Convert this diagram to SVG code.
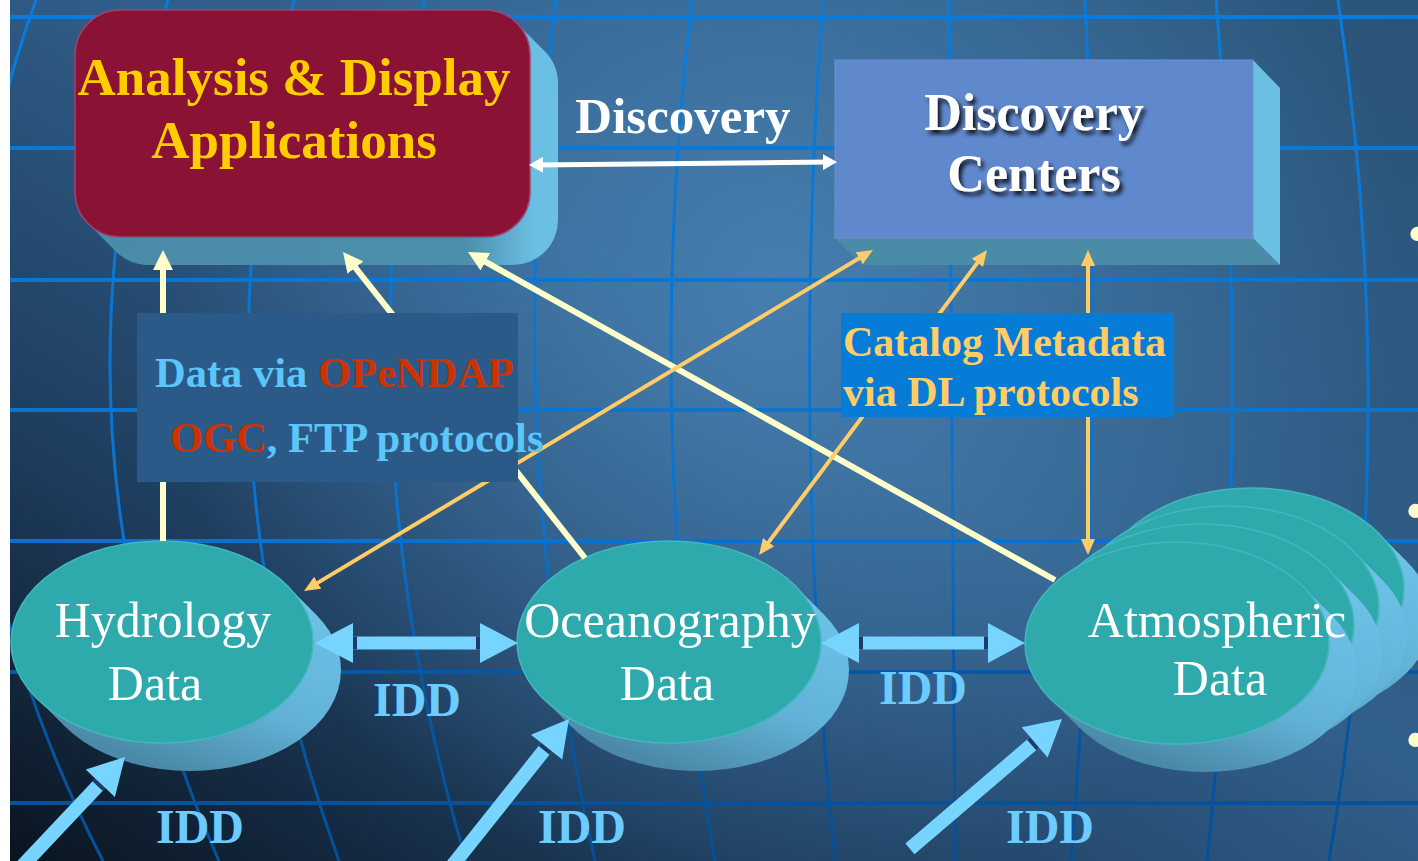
<svg xmlns="http://www.w3.org/2000/svg" width="1418" height="861" viewBox="0 0 1418 861">
  <defs>
    <linearGradient id="bgLin" x1="1" y1="0" x2="0" y2="1">
      <stop offset="0" stop-color="#2a5478"/>
      <stop offset="0.45" stop-color="#315f8b"/>
      <stop offset="0.75" stop-color="#1e3d5e"/>
      <stop offset="1" stop-color="#0a1420"/>
    </linearGradient>
    <radialGradient id="bgGlow" gradientUnits="userSpaceOnUse" cx="780" cy="280" r="620">
      <stop offset="0" stop-color="#4a84b6" stop-opacity="0.85"/>
      <stop offset="0.6" stop-color="#4a84b6" stop-opacity="0.35"/>
      <stop offset="1" stop-color="#4a84b6" stop-opacity="0"/>
    </radialGradient>
    <linearGradient id="gridStroke" gradientUnits="userSpaceOnUse" x1="0" y1="0" x2="0" y2="861">
      <stop offset="0" stop-color="#0b7bd9"/>
      <stop offset="0.62" stop-color="#0a72cf"/>
      <stop offset="0.78" stop-color="#0558a6"/>
      <stop offset="1" stop-color="#04509a"/>
    </linearGradient>
    <linearGradient id="boxSide" gradientUnits="userSpaceOnUse" x1="103" y1="0" x2="558" y2="0">
      <stop offset="0" stop-color="#4a8ba8"/>
      <stop offset="0.8" stop-color="#4c8fad"/>
      <stop offset="0.95" stop-color="#6bbfe3"/>
    </linearGradient>
    <linearGradient id="ellSide" x1="0.85" y1="0.2" x2="0.45" y2="1">
      <stop offset="0" stop-color="#6cc1e6"/>
      <stop offset="0.55" stop-color="#62b2d7"/>
      <stop offset="1" stop-color="#4a8aa7"/>
    </linearGradient>
    <filter id="txtShadow" x="-10%" y="-20%" width="130%" height="150%">
      <feDropShadow dx="3" dy="4" stdDeviation="2" flood-color="#000" flood-opacity="0.85"/>
    </filter>
    <marker id="mCream" viewBox="0 0 20 20" markerUnits="userSpaceOnUse" markerWidth="20" markerHeight="20" refX="10" refY="10" orient="auto-start-reverse">
      <path d="M0,0 L20,10 L0,20 Z" fill="#ffffcc"/>
    </marker>
    <marker id="mOrange" viewBox="0 0 16 14" markerUnits="userSpaceOnUse" markerWidth="16" markerHeight="14" refX="8" refY="7" orient="auto-start-reverse">
      <path d="M0,0 L16,7 L0,14 Z" fill="#ffcc66"/>
    </marker>
    <marker id="mWhite" viewBox="0 0 14 16" markerUnits="userSpaceOnUse" markerWidth="14" markerHeight="16" refX="7" refY="8" orient="auto-start-reverse">
      <path d="M0,0 L14,8 L0,16 Z" fill="#ffffff"/>
    </marker>
    <g id="blockArrow">
      <polygon points="0,0 -36,-20 -36,-7 -200,-7 -200,7 -36,7 -36,20" fill="#77d4ff"/>
      <rect x="-40" y="-7" width="4" height="14" fill="#1f3a66"/>
    </g>
  </defs>
  <style>
    .grid { fill: none; stroke: url(#gridStroke); }
    .serif { font-family: "Liberation Serif", "Times New Roman", serif; }
    .bold { font-weight: bold; }
    .ellFront { fill: #2eaaad; stroke: #45b6bd; stroke-width: 1.5; }
    .ellSide { fill: url(#ellSide); }
    .ellText { font-family: "Liberation Serif", "Times New Roman", serif; font-size: 50px; fill: #ffffff; text-anchor: middle; }
    .idd { font-family: "Liberation Serif", "Times New Roman", serif; font-size: 48px; font-weight: bold; fill: #6ccbff; text-anchor: middle; }
    .cream { stroke: #ffffcc; stroke-width: 6; fill: none; marker-end: url(#mCream); }
    .orange { stroke: #ffcc66; stroke-width: 4; fill: none; marker-start: url(#mOrange); marker-end: url(#mOrange); }
    .blue { fill: #5bc6f8; }
    .red { fill: #cc3300; }
  </style>

  <g id="background">
    <rect x="0" y="0" width="1418" height="861" fill="#ffffff"/>
    <rect x="10" y="0" width="1408" height="861" fill="url(#bgLin)"/>
    <rect x="10" y="0" width="1408" height="861" fill="url(#bgGlow)"/>
    <g class="grid" stroke-width="4">
      <line x1="10" y1="17" x2="1418" y2="17"/>
      <line x1="10" y1="148" x2="1418" y2="148"/>
      <line x1="10" y1="280" x2="1418" y2="280"/>
      <line x1="10" y1="410" x2="1418" y2="410"/>
      <line x1="10" y1="541" x2="1418" y2="541"/>
      <line x1="10" y1="672" x2="1418" y2="672"/>
      <line x1="10" y1="803" x2="1418" y2="803"/>
    </g>
    <g class="grid" stroke-width="3">
      <path d="M36,0 Q-119.5,429.5 103,861"/>
      <path d="M168,0 Q30.5,429.5 219,861"/>
      <path d="M294,0 Q183.5,429.5 339,861"/>
      <path d="M425,0 Q338.5,429.5 466,861"/>
      <path d="M556,0 Q498.5,429.5 595,861"/>
      <path d="M692,0 Q640.5,429.5 715,861"/>
      <path d="M823,0 Q791,429.5 835,861"/>
      <path d="M949,0 Q952,429.5 955,861"/>
      <path d="M1085,0 Q1106,429.5 1071,861"/>
      <path d="M1216,0 Q1252.5,429.5 1207,861"/>
      <path d="M1338,0 Q1402.5,429.5 1329,861"/>
    </g>
    <rect x="0" y="0" width="10" height="861" fill="#ffffff"/>
  </g>

  <g id="node-analysis">
    <rect x="82" y="17" width="455" height="227" rx="45" fill="url(#boxSide)"/>
    <rect x="89" y="24" width="455" height="227" rx="45" fill="url(#boxSide)"/>
    <rect x="96" y="31" width="455" height="227" rx="45" fill="url(#boxSide)"/>
    <rect x="103" y="38" width="455" height="227" rx="45" fill="url(#boxSide)"/>
    <rect x="75" y="10" width="455" height="227" rx="45" fill="#8a1234" stroke="#9c4470" stroke-width="1.5"/>
    <text class="serif bold" x="294" y="95" font-size="53" fill="#ffcc00" text-anchor="middle">Analysis &amp; Display</text>
    <text class="serif bold" x="294" y="158" font-size="53" fill="#ffcc00" text-anchor="middle">Applications</text>
  </g>

  <g id="node-discovery-centers">
    <polygon points="835,238 1253,238 1280,265 862,265" fill="#4a8ca8"/>
    <polygon points="1253,60 1280,88 1280,265 1253,238" fill="#6bbfe3"/>
    <rect x="835" y="60" width="418" height="178" fill="#6088cc" stroke="#6a92d2" stroke-width="1"/>
    <g filter="url(#txtShadow)">
      <text class="serif bold" x="1034" y="130" font-size="52" fill="#ffffff" text-anchor="middle">Discovery</text>
      <text class="serif bold" x="1034" y="191" font-size="52" fill="#ffffff" text-anchor="middle">Centers</text>
    </g>
  </g>

  <g id="node-hydrology">
    <ellipse class="ellSide" cx="169" cy="649" rx="151" ry="101"/>
    <ellipse class="ellSide" cx="176" cy="656" rx="151" ry="101"/>
    <ellipse class="ellSide" cx="183" cy="663" rx="151" ry="101"/>
    <ellipse class="ellSide" cx="190" cy="670" rx="151" ry="101"/>
    <ellipse class="ellFront" cx="162" cy="642" rx="151" ry="101"/>
    <text class="ellText" x="163" y="637">Hydrology</text>
    <text class="ellText" x="155" y="700">Data</text>
  </g>

  <g id="node-oceanography">
    <ellipse class="ellSide" cx="676" cy="649" rx="152" ry="101"/>
    <ellipse class="ellSide" cx="683" cy="656" rx="152" ry="101"/>
    <ellipse class="ellSide" cx="690" cy="663" rx="152" ry="101"/>
    <ellipse class="ellSide" cx="697" cy="670" rx="152" ry="101"/>
    <ellipse class="ellFront" cx="669" cy="642" rx="152" ry="101"/>
    <text class="ellText" x="670" y="637">Oceanography</text>
    <text class="ellText" x="667" y="700">Data</text>
  </g>

  <g id="node-atmospheric">
    <g id="atm-layer3">
      <ellipse class="ellSide" cx="1259" cy="596" rx="152" ry="101"/>
      <ellipse class="ellSide" cx="1266" cy="603" rx="152" ry="101"/>
      <ellipse class="ellSide" cx="1273" cy="610" rx="152" ry="101"/>
      <ellipse class="ellSide" cx="1280" cy="617" rx="152" ry="101"/>
      <ellipse class="ellFront" cx="1252" cy="589" rx="152" ry="101"/>
    </g>
    <g id="atm-layer2">
      <ellipse class="ellSide" cx="1234" cy="614" rx="152" ry="101"/>
      <ellipse class="ellSide" cx="1241" cy="621" rx="152" ry="101"/>
      <ellipse class="ellSide" cx="1248" cy="628" rx="152" ry="101"/>
      <ellipse class="ellSide" cx="1255" cy="635" rx="152" ry="101"/>
      <ellipse class="ellFront" cx="1227" cy="607" rx="152" ry="101"/>
    </g>
    <g id="atm-layer1">
      <ellipse class="ellSide" cx="1209" cy="632" rx="152" ry="101"/>
      <ellipse class="ellSide" cx="1216" cy="639" rx="152" ry="101"/>
      <ellipse class="ellSide" cx="1223" cy="646" rx="152" ry="101"/>
      <ellipse class="ellSide" cx="1230" cy="653" rx="152" ry="101"/>
      <ellipse class="ellFront" cx="1202" cy="625" rx="152" ry="101"/>
    </g>
    <g id="atm-layer0">
      <ellipse class="ellSide" cx="1184" cy="650" rx="152" ry="101"/>
      <ellipse class="ellSide" cx="1191" cy="657" rx="152" ry="101"/>
      <ellipse class="ellSide" cx="1198" cy="664" rx="152" ry="101"/>
      <ellipse class="ellSide" cx="1205" cy="671" rx="152" ry="101"/>
      <ellipse class="ellFront" cx="1177" cy="643" rx="152" ry="101"/>
    </g>
    <text class="ellText" x="1217" y="637">Atmospheric</text>
    <text class="ellText" x="1220" y="695">Data</text>
  </g>

  <g id="connectors">
    <line x1="536" y1="164.9" x2="830" y2="162.1" stroke="#ffffff" stroke-width="5" marker-start="url(#mWhite)" marker-end="url(#mWhite)"/>
    <line class="cream" x1="163" y1="541" x2="163" y2="260"/>
    <line class="cream" x1="585" y1="558" x2="349.2" y2="259.8"/>
    <line class="cream" x1="1055" y1="580" x2="476.7" y2="256.9"/>
    <line class="orange" x1="310.9" y1="586.9" x2="866.1" y2="254.1"/>
    <line class="orange" x1="763.8" y1="548.6" x2="982.2" y2="256.4"/>
    <line class="orange" x1="1088" y1="547" x2="1088" y2="258"/>
    <polygon points="315,643 353,623 353,636.5 480,636.5 480,623 518,643 480,663 480,649.5 353,649.5 353,663" fill="#77d4ff"/>
    <rect x="353" y="636.5" width="4" height="13" fill="#1f3a66"/>
    <rect x="476" y="636.5" width="4" height="13" fill="#1f3a66"/>
    <polygon points="821,643 859,623 859,636.5 988,636.5 988,623 1025,643 988,663 988,649.5 859,649.5 859,663" fill="#77d4ff"/>
    <rect x="859" y="636.5" width="4" height="13" fill="#1f3a66"/>
    <rect x="984" y="636.5" width="4" height="13" fill="#1f3a66"/>
    <use href="#blockArrow" transform="translate(125,757) rotate(-46.7)"/>
    <use href="#blockArrow" transform="translate(569,719) rotate(-51.5)"/>
    <use href="#blockArrow" transform="translate(1062,719) rotate(-40.5)"/>
  </g>

  <g id="label-data-protocols">
    <rect x="137" y="313" width="381" height="169" fill="#2c5a88"/>
    <text class="serif bold" x="155" y="387" font-size="42.5"><tspan class="blue">Data via </tspan><tspan class="red">OPeNDAP</tspan></text>
    <text class="serif bold" x="170" y="452" font-size="42.5"><tspan class="red">OGC</tspan><tspan class="blue">, FTP protocols</tspan></text>
  </g>

  <g id="label-catalog">
    <rect x="841" y="313" width="333" height="104" fill="#077cd6"/>
    <text class="serif bold" x="843" y="356" font-size="42" fill="#ffcc66">Catalog Metadata</text>
    <text class="serif bold" x="843" y="406" font-size="42" fill="#ffcc66">via DL protocols</text>
  </g>

  <g id="labels-idd">
    <text class="serif bold" x="683" y="133" font-size="51" fill="#ffffff" text-anchor="middle">Discovery</text>
    <text class="idd" x="417" y="716">IDD</text>
    <text class="idd" x="923" y="704">IDD</text>
    <text class="idd" x="200" y="843">IDD</text>
    <text class="idd" x="582" y="843">IDD</text>
    <text class="idd" x="1050" y="843">IDD</text>
  </g>

  <g id="bullets" class="serif" font-size="60" fill="#ffffcc">
    <text x="1407" y="254">•</text>
    <text x="1405" y="531">•</text>
    <text x="1405" y="760">•</text>
  </g>
</svg>
